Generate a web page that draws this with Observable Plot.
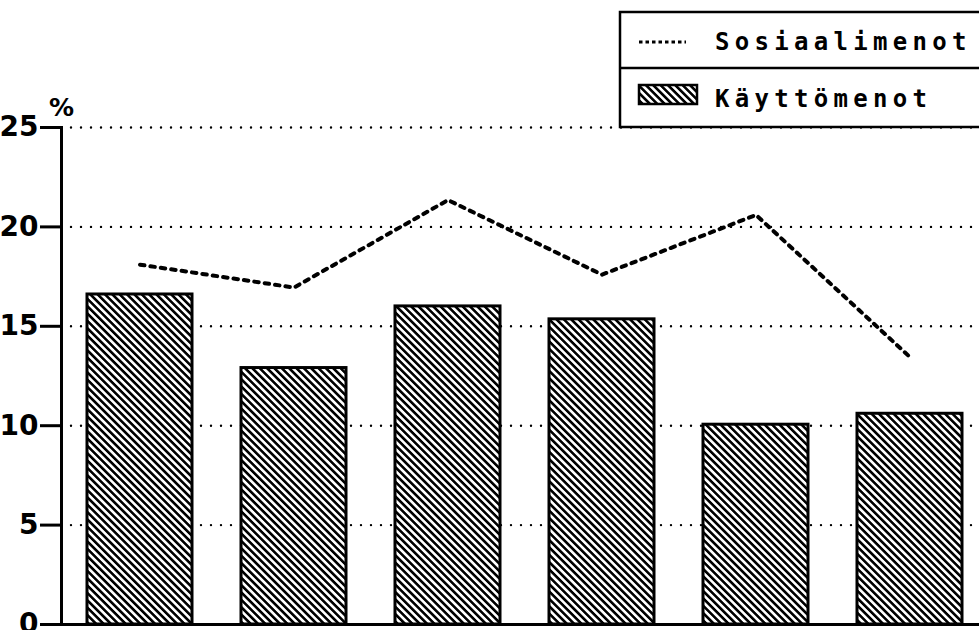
<!DOCTYPE html>
<html><head><meta charset="utf-8">
<script src="https://cdn.jsdelivr.net/npm/d3@7"></script>
<script src="https://cdn.jsdelivr.net/npm/@observablehq/plot@0.6"></script>
<style>
html,body{margin:0;padding:0;background:#fff;overflow:hidden;}
#wrap{position:relative;width:979px;height:630px;}
#legend{position:absolute;left:0;top:0;pointer-events:none;}
</style></head><body><div id="wrap"></div>
<script>
const categories = ["1", "2", "3", "4", "5", "6"];
const kayttomenot = [16.6, 12.9, 16.0, 15.35, 10.05, 10.6];
const sosiaalimenot = [18.1, 16.95, 21.35, 17.6, 20.6, 13.45];
const yTicks = [0, 5, 10, 15, 20, 25];
const seriesNames = ["Sosiaalimenot", "Käyttömenot"];
const yUnit = "%";

const data = categories.map((c, i) => ({c, k: kayttomenot[i], s: sosiaalimenot[i]}));
const tickFont = "DejaVu Sans";

const chart = Plot.plot({
  width: 979, height: 630,
  marginLeft: 61, marginRight: 0, marginTop: 127, marginBottom: 6,
  style: {background: "white", overflow: "visible", fontSize: "28px", fontFamily: tickFont},
  x: {type: "band", domain: categories, paddingInner: 0.32, paddingOuter: 0.133, align: 0.61, axis: null},
  y: {domain: [0, 25], axis: null},
  marks: [
    Plot.ruleY(yTicks.filter(d => d > 0), {stroke: "black", strokeWidth: 2.4, strokeDasharray: "0 10", strokeLinecap: "round"}),
    Plot.barY(data, {x: "c", y: "k", fill: "url(#hatch)", stroke: "black", strokeWidth: 3}),
    Plot.line(data, {x: "c", y: "s", stroke: "black", strokeWidth: 4, strokeDasharray: "4.5 6", strokeLinecap: "round"}),
    Plot.ruleY([0], {stroke: "black", strokeWidth: 3}),
    Plot.frame({anchor: "left", stroke: "black", strokeWidth: 3}),
    Plot.axisY({ticks: yTicks, tickSize: 21, tickPadding: 2, strokeWidth: 3, fontSize: 28, fontWeight: "bold",
      fontFamily: tickFont, label: null, tickFormat: d => String(d)}),
    Plot.text([yUnit], {text: d => d, frameAnchor: "top-left", dy: -29, fontSize: 25, fontWeight: "bold",
      fontFamily: tickFont, textAnchor: "middle"})
  ]
});

const wrap = document.getElementById("wrap");
wrap.appendChild(chart);
const svg = d3.select(chart.tagName.toLowerCase() === "svg" ? chart : chart.querySelector("svg"));
svg.selectAll('[aria-label="y-axis tick label"] text').style("font-size", "28px").style("font-weight", "bold");
const defs = svg.insert("defs", ":first-child");
const p = defs.append("pattern").attr("id", "hatch").attr("patternUnits", "userSpaceOnUse")
  .attr("width", 5.2).attr("height", 5.2).attr("patternTransform", "rotate(-45)");
p.append("rect").attr("width", 5.2).attr("height", 5.2).attr("fill", "white");
p.append("rect").attr("width", 2.6).attr("height", 5.2).attr("fill", "black");

// Legend overlay
const lg = d3.select(wrap).append("svg").attr("id", "legend").attr("width", 979).attr("height", 135);
lg.append("rect").attr("x", 620).attr("y", 12).attr("width", 400).attr("height", 115)
  .attr("fill", "white").attr("stroke", "black").attr("stroke-width", 2.5);
lg.append("line").attr("x1", 620).attr("x2", 979).attr("y1", 68).attr("y2", 68)
  .attr("stroke", "black").attr("stroke-width", 2.5);
lg.append("line").attr("x1", 639).attr("x2", 686).attr("y1", 42).attr("y2", 42)
  .attr("stroke", "black").attr("stroke-width", 3).attr("stroke-dasharray", "3.5 3");
lg.append("rect").attr("x", 639).attr("y", 85).attr("width", 58).attr("height", 19)
  .attr("fill", "url(#hatch)").attr("stroke", "black").attr("stroke-width", 2.5);
const tstyle = s => s.attr("font-family", "DejaVu Sans Mono").attr("font-size", 24)
  .attr("font-weight", "bold").attr("letter-spacing", "5.3px").attr("fill", "black");
lg.append("text").attr("x", 715).attr("y", 50).text(seriesNames[0]).call(tstyle);
lg.append("text").attr("x", 715).attr("y", 107).text(seriesNames[1]).call(tstyle);
</script></body></html>
